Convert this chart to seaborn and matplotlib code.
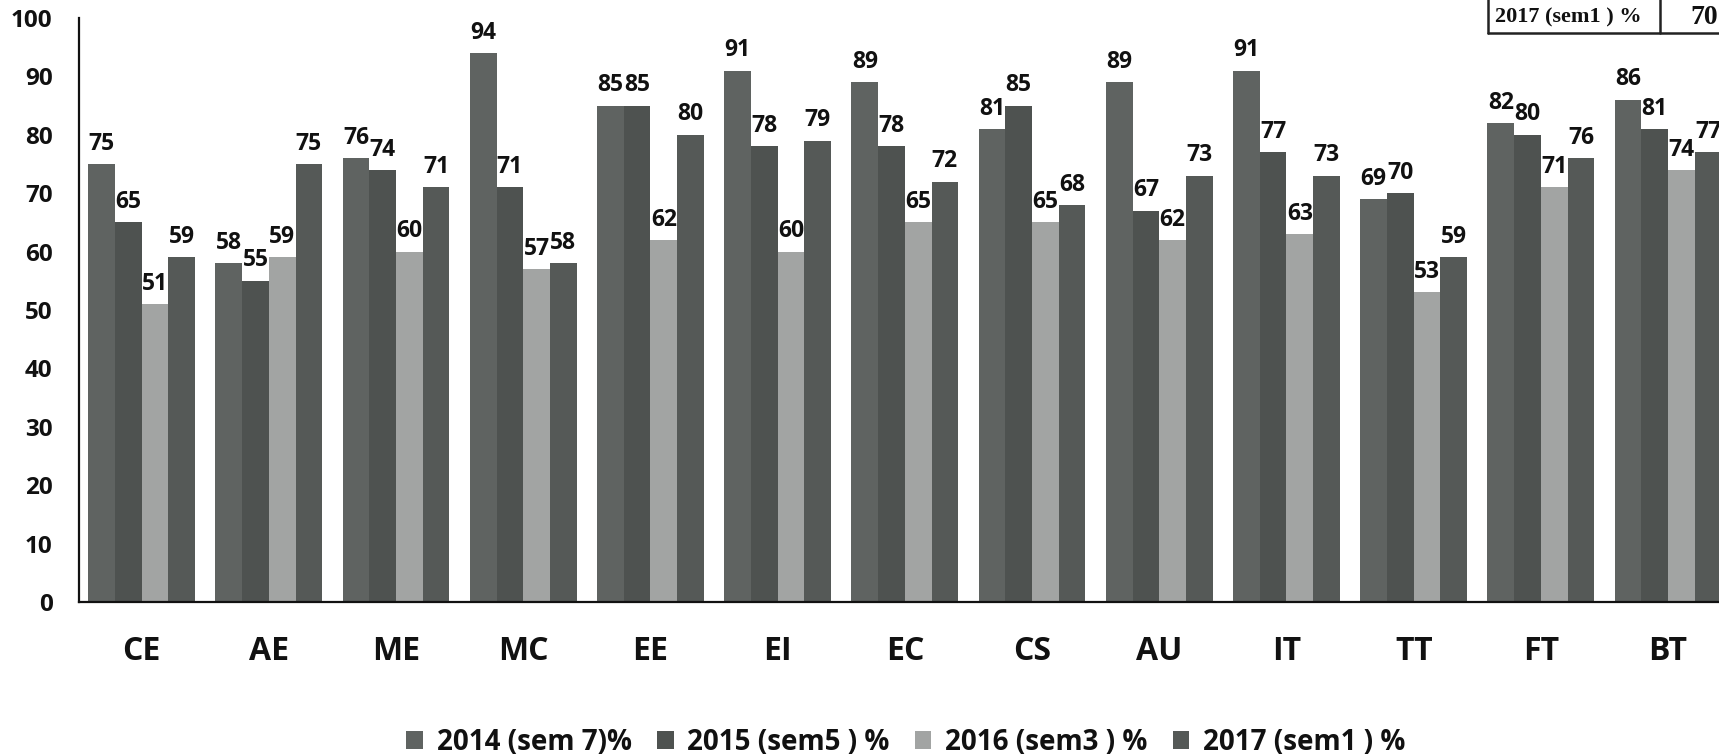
import matplotlib
matplotlib.use("Agg")
import matplotlib.pyplot as plt
from matplotlib.lines import Line2D
import seaborn as sns
import pandas as pd

categories = ["CE", "AE", "ME", "MC", "EE", "EI", "EC", "CS", "AU", "IT", "TT", "FT", "BT"]
series_names = ["2014 (sem 7)%", "2015 (sem5 ) %", "2016 (sem3 ) %", "2017 (sem1 ) %"]
v2014 = [75, 58, 76, 94, 85, 91, 89, 81, 89, 91, 69, 82, 86]
v2015 = [65, 55, 74, 71, 85, 78, 78, 85, 67, 77, 70, 80, 81]
v2016 = [51, 59, 60, 57, 62, 60, 65, 65, 62, 63, 53, 71, 74]
v2017 = [59, 75, 71, 58, 80, 79, 72, 68, 73, 73, 59, 76, 77]
colors = ["#5f6361", "#4e5250", "#a2a4a3", "#555957"]
yticks = [0, 10, 20, 30, 40, 50, 60, 70, 80, 90, 100]

rows = []
for name, vals in zip(series_names, [v2014, v2015, v2016, v2017]):
    for c, v in zip(categories, vals):
        rows.append({"Branch": c, "Series": name, "Value": v})
df = pd.DataFrame(rows)

sns.set_style("white")
plt.rcParams["font.family"] = ["Open Sans", "DejaVu Sans"]
plt.rcParams["font.weight"] = "bold"

W, H = 1719, 756
fig = plt.figure(figsize=(W / 100, H / 100), dpi=100)
ax = fig.add_axes([79 / W, (H - 602) / H, (W - 79) / W, (602 - 18) / H])

sns.barplot(data=df, x="Branch", y="Value", hue="Series", order=categories,
            hue_order=series_names, palette=colors, width=0.84, gap=0,
            saturation=1, errorbar=None, ax=ax, legend=True, linewidth=0)

for cont, vals in zip(ax.containers, [v2014, v2015, v2016, v2017]):
    ax.bar_label(cont, labels=[str(v) for v in vals], padding=6,
                 fontsize=16.5, fontweight="bold", color="#111111", clip_on=False)

ax.set_ylim(0, 100)
ax.set_xlim(-0.492, 12.40)
ax.set_yticks(yticks)
ax.set_yticklabels([str(t) for t in yticks], fontsize=17.5, fontweight="bold", color="#111111")
ax.tick_params(axis="y", length=0, pad=19)
ax.tick_params(axis="x", length=0, pad=24, labelsize=23, labelcolor="#111111")
for lab in ax.get_xticklabels():
    lab.set_fontweight("bold")
ax.set_xlabel("")
ax.set_ylabel("")
for s in ["top", "right"]:
    ax.spines[s].set_visible(False)
for s in ["left", "bottom"]:
    ax.spines[s].set_color("#111111")
    ax.spines[s].set_linewidth(1.6)

handles, labels = ax.get_legend_handles_labels()
ax.legend(handles, labels, loc="center", bbox_to_anchor=(906 / W, (H - 742) / H),
          bbox_transform=fig.transFigure, ncol=4, frameon=False,
          prop={"size": 20, "weight": "bold"}, handlelength=0.6, handleheight=0.6,
          handletextpad=0.5, columnspacing=0.9, labelcolor="#111111")

# partial table fragment at the top right
lc = "#222222"
fig.add_artist(Line2D([1488 / W, 1488 / W], [(H - 33) / H, 1.05], transform=fig.transFigure, color=lc, lw=1.8))
fig.add_artist(Line2D([1660 / W, 1660 / W], [(H - 33) / H, 1.05], transform=fig.transFigure, color=lc, lw=1.8))
fig.add_artist(Line2D([1488 / W, 1.05], [(H - 33) / H, (H - 33) / H], transform=fig.transFigure, color=lc, lw=1.8))
fig.text(1495 / W, (H - 17) / H, "2017 (sem1 ) %", family=["Liberation Serif", "DejaVu Serif"],
         fontsize=16, fontweight="bold", va="center", ha="left", color="#111111")
fig.text(1690 / W, (H - 17) / H, "70", family=["Liberation Serif", "DejaVu Serif"],
         fontsize=20, fontweight="bold", va="center", ha="left", color="#111111")

fig.savefig("out.png", dpi=100, facecolor="white")
